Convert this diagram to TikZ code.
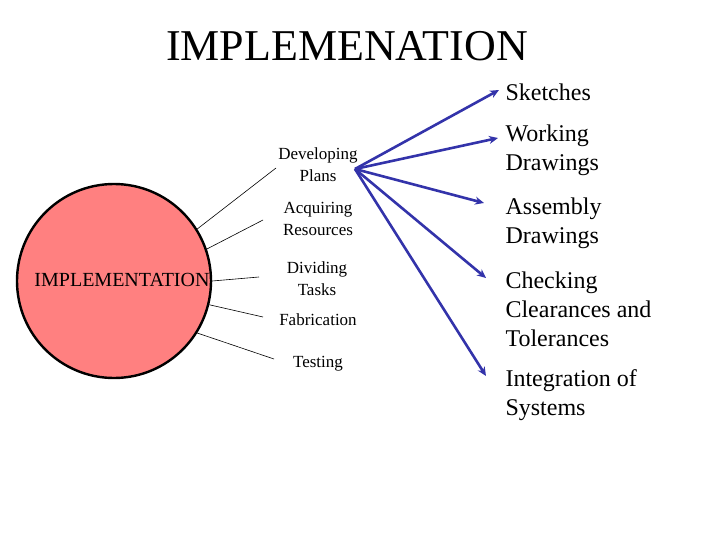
\documentclass[tikz,border=0pt]{standalone}
\usepackage{fontspec}
\setmainfont{Liberation Serif}
\usetikzlibrary{arrows.meta}
\definecolor{salmon}{RGB}{255,128,128}
\definecolor{planblue}{RGB}{51,51,170}

\begin{document}
\begin{tikzpicture}[x=1pt,y=-1pt,
		task/.style={align=center,font=\fontsize{17}{22}\selectfont},
		part/.style={anchor=west,align=left,font=\fontsize{24}{29}\selectfont},
		spoke/.style={draw=black,line width=0.6pt},
		plan/.style={draw=planblue,line width=2.6pt,-{Stealth[length=9pt,width=8pt]}}]
			\useasboundingbox (0,0) rectangle (720,540);
			
			\node [font=\fontsize{44}{50}\selectfont] (title) at (347,46) {IMPLEMENATION};
			
			\node [circle,draw,line width=2.4pt,fill=salmon,minimum size=194pt,inner sep=0pt] (impl) at (114,281) {};
			\node [font=\fontsize{20}{24}\selectfont] (impllabel) at (122,280) {IMPLEMENTATION};
			
			\node [task] (develop) at (318,165) {Developing\\Plans};
			\node [task] (acquire) at (318,219) {Acquiring\\Resources};
			\node [task] (divide) at (317,279) {Dividing\\Tasks};
			\node [task] (fabric) at (318,320) {Fabrication};
			\node [task] (testing) at (318,364) {Testing};
			
			\coordinate (devend) at (276,168);
			\coordinate (acqend) at (263,220);
			\coordinate (divend) at (259,277);
			\coordinate (fabend) at (263,317);
			\coordinate (tesend) at (274,359);
			
			\draw [spoke] (impl.32) -- (devend);
			\draw [spoke] (impl.19) -- (acqend);
			\draw [spoke] (impl.0) -- (divend);
			\draw [spoke] (impl.-14) -- (fabend);
			\draw [spoke] (impl.-32) -- (tesend);
			
			\node [part] (sketch) at (502,92) {Sketches};
			\node [part] (working) at (502,150) {Working\\Drawings};
			\node [part] (assembly) at (502,223) {Assembly\\Drawings};
			\node [part] (checking) at (502,309) {Checking\\Clearances and\\Tolerances};
			\node [part] (integrate) at (502,395) {Integration of\\Systems};
			
			\coordinate (hub) at (355,169);
			\coordinate (skend) at (499,90);
			\coordinate (wdend) at (498,138);
			\coordinate (adend) at (484,203);
			\coordinate (ccend) at (486,278);
			\coordinate (isend) at (486,376);
			
			\draw [plan] (hub) -- (skend);
			\draw [plan] (hub) -- (wdend);
			\draw [plan] (hub) -- (adend);
			\draw [plan] (hub) -- (ccend);
			\draw [plan] (hub) -- (isend);
\end{tikzpicture}
\end{document}
